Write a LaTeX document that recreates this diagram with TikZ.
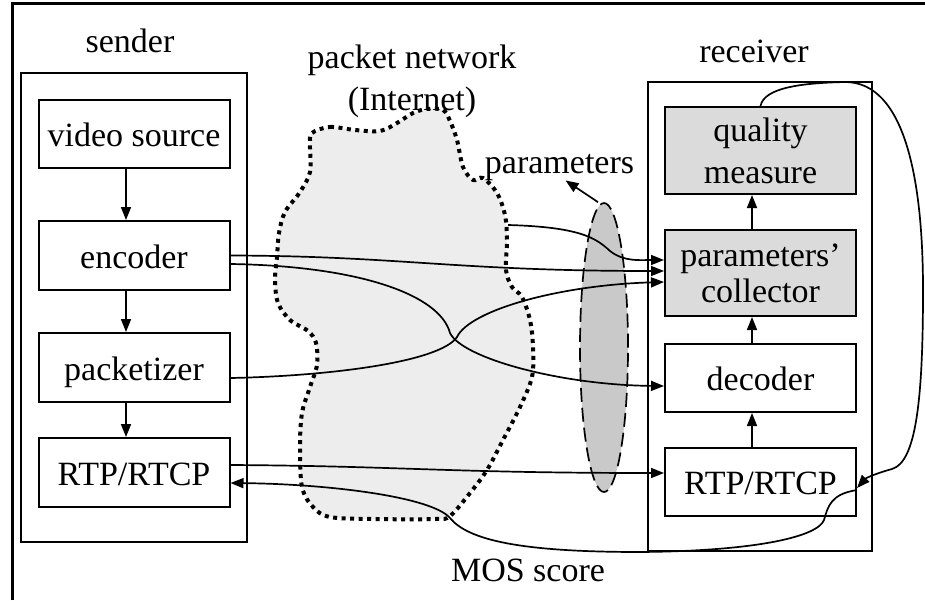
\documentclass[tikz,border=0pt]{standalone}
\usepackage{fontspec}
\setmainfont{Liberation Serif}
\usetikzlibrary{arrows.meta,shapes.geometric}
\begin{document}
\begin{tikzpicture}[x=1pt,y=-1pt,
  txt/.style={font=\fontsize{34}{38}\selectfont,inner sep=0pt},
  box/.style={draw,line width=2pt,minimum width=191pt,inner sep=0pt,
    font=\fontsize{34}{38}\selectfont,text height=25pt,text depth=0pt},
  gbox/.style={draw,line width=2pt,minimum width=191pt,inner sep=0pt,
    fill=gray!28,align=center},
  outerbox/.style={draw,line width=2pt,inner sep=0pt},
  arr/.style={line width=1.7pt,-{Triangle[length=13pt,width=10pt]}},
  cloudline/.style={line width=4pt,dash pattern=on 4pt off 4.5pt,fill=gray!14},
  ellipsebox/.style={ellipse,draw,dash pattern=on 14pt off 6pt,line width=1.7pt,
    fill=gray!42,minimum width=48pt,minimum height=289pt,inner sep=0pt}
]
\useasboundingbox (0,0) rectangle (925,600);
% frame
\draw[line width=3pt] (12,600) -- (12,3) -- (925,3);

% cloud
\draw[cloudline] plot[smooth cycle, tension=0.55] coordinates {
 (312,133) (330,127) (355,130) (380,131) (397,123) (413,113) (427,109) (443,110)
 (450,121) (457,140) (463,167) (473,180) (483,178) (497,193) (505,215) (507,240)
 (506,270) (512,287) (522,297) (530,320) (533,347) (532,377) (520,407) (503,440)
 (487,470) (470,493) (450,516) (435,519) (373,519) (330,517) (313,507) (302,487)
 (300,447) (302,413) (310,387) (317,365) (316,343) (308,331) (290,320) (278,303)
 (275,280) (277,257) (279,233) (285,212) (300,192) (310,172) (310,145)};

% parameters ellipse
\node[ellipsebox] (ell) at (604,347.5) {};

% labels
\node[txt,anchor=base] (sendlbl) at (130,52) {sender};
\node[txt,anchor=base] (reclbl) at (754,62) {receiver};
\node[txt,anchor=base] (netlbl) at (412,68) {packet network};
\node[txt,anchor=base] (inetlbl) at (412,110) {(Internet)};
\node[txt,anchor=base] (parlbl) at (559.5,173) {parameters};
\node[txt,anchor=base] (moslbl) at (528,581) {MOS score};

% outer boxes
\node[outerbox,minimum width=226pt,minimum height=469pt] (sendbox) at (134,307.5) {};
\node[outerbox,minimum width=224pt,minimum height=469pt] (recbox) at (760,316.5) {};

% sender boxes
\node[box,minimum height=68pt] (vs) at (134,134) {video source};
\node[box,minimum height=69pt] (enc) at (134,255.5) {encoder};
\node[box,minimum height=69pt] (pkt) at (134,367.5) {packetizer};
\node[box,minimum height=69pt] (rtps) at (134,472.5) {RTP/RTCP};

% receiver boxes
\node[gbox,minimum height=87pt,font=\fontsize{34}{42}\selectfont] (qm) at (760.5,150.5) {quality\\measure};
\node[gbox,minimum height=86pt,font=\fontsize{34}{36}\selectfont] (pc) at (760.5,273) {parameters’\\collector};
\node[box,minimum height=68pt] (dec) at (760.5,378) {decoder};
\node[box,minimum height=68pt] (rtpr) at (760.5,482) {RTP/RTCP};

% vertical arrows
\draw[arr] ([xshift=-8pt]vs.south) -- ([xshift=-8pt]enc.north);
\draw[arr] ([xshift=-8pt]enc.south) -- ([xshift=-8pt]pkt.north);
\draw[arr] ([xshift=-8pt]pkt.south) -- ([xshift=-8pt]rtps.north);
\draw[arr] ([xshift=-8.5pt]rtpr.north) -- ([xshift=-8.5pt]dec.south);
\draw[arr] ([xshift=-8.5pt]dec.north) -- ([xshift=-8.5pt]pc.south);
\draw[arr] ([xshift=-8.5pt]pc.north) -- ([xshift=-8.5pt]qm.south);

% parameters arrow
\draw[arr] ([xshift=-6pt]ell.north) -- ([xshift=6pt]parlbl.south);

% encoder -> collector
\draw[arr] ([yshift=0pt]enc.east) .. controls (400,256) and (455,271) .. ([yshift=2pt]pc.west);
% encoder -> decoder
\draw[arr] ([yshift=-8.5pt]enc.east) .. controls (360,266) and (440,295) .. (450,333)
  .. controls (462,358) and (560,385) .. ([yshift=-8pt]dec.west);
% packetizer -> collector
\draw[arr] ([yshift=-10.5pt]pkt.east) .. controls (330,376) and (440,362) .. (457,337)
  .. controls (470,310) and (560,285) .. ([yshift=-9pt]pc.west);
% network -> collector
\coordinate (netout) at (508,225);
\draw[arr] (netout) .. controls (580,227) and (596,238) .. (610,251)
  .. controls (624,262) and (640,260) .. ([yshift=13pt]pc.west);
% RTP sender -> RTP receiver
\draw[arr] ([yshift=7.5pt]rtps.east) .. controls (400,466) and (450,473) .. ([yshift=9pt]rtpr.west);
% quality -> RTP receiver (feedback loop)
\draw[arr] (qm.north) .. controls (764,88) and (800,83) .. (845,82)
  .. controls (905,82) and (923,180) .. (923,290)
  .. controls (923,400) and (916,462) .. (892,469)
  .. controls (877,473) and (866,478) .. ([yshift=-6pt]rtpr.east);
% RTP receiver -> RTP sender (MOS score)
\draw[arr] ([yshift=-8pt]rtpr.east) .. controls (831,494) and (828,506) .. (824,520)
  .. controls (818,536) and (760,551) .. (640,552)
  .. controls (520,552) and (468,540) .. (450,518)
  .. controls (432,497) and (330,484) .. ([yshift=-10.5pt]rtps.east);
\end{tikzpicture}
\end{document}
